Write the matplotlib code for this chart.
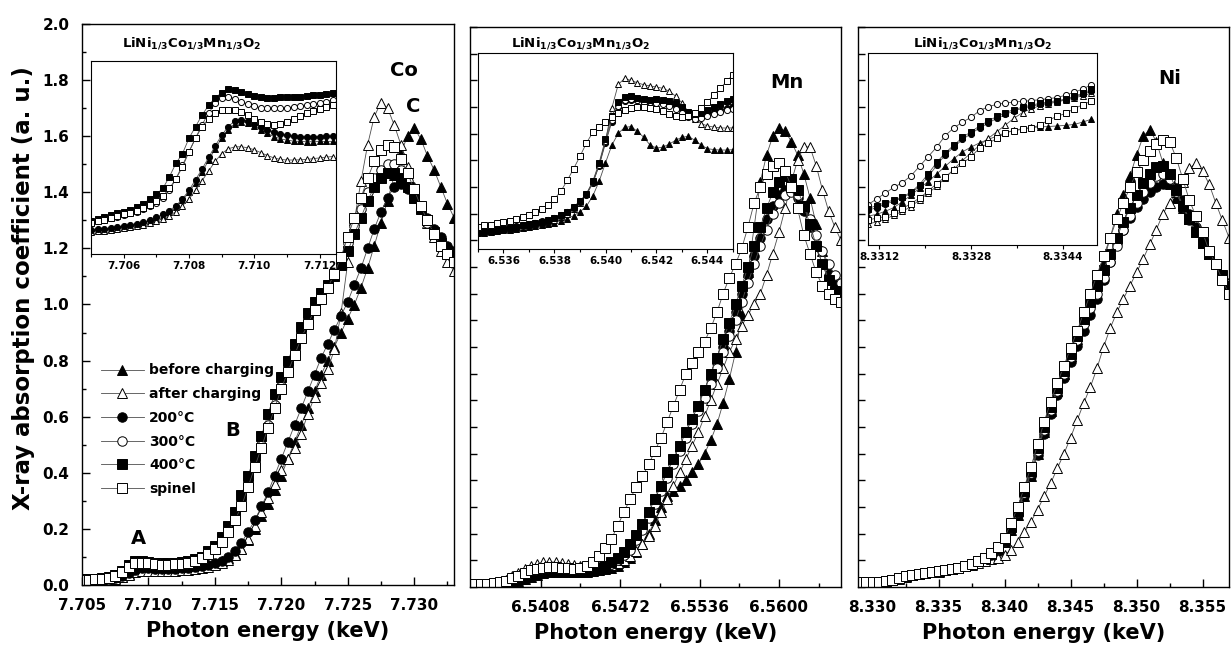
import matplotlib
matplotlib.use('Agg')
import matplotlib.pyplot as plt
from matplotlib.ticker import MultipleLocator, FormatStrFormatter

plt.rcParams['font.family'] = 'DejaVu Sans'
plt.rcParams['font.weight'] = 'bold'
plt.rcParams['mathtext.default'] = 'bf'

labels = ['before charging', 'after charging', '200°C', '300°C', '400°C', 'spinel']
markers = ['^', '^', 'o', 'o', 's', 's']
faces = ['k', 'w', 'k', 'w', 'k', 'w']

# ---------------- Co K-edge (main) ----------------
co_energy = [7.7050, 7.7055, 7.7060, 7.7065, 7.7070, 7.7075, 7.7080, 7.7085, 7.7090, 7.7095,
             7.7100, 7.7105, 7.7110, 7.7115, 7.7120, 7.7125, 7.7130, 7.7135, 7.7140, 7.7145,
             7.7150, 7.7155, 7.7160, 7.7165, 7.7170, 7.7175, 7.7180, 7.7185, 7.7190, 7.7195,
             7.7200, 7.7205, 7.7210, 7.7215, 7.7220, 7.7225, 7.7230, 7.7235, 7.7240, 7.7245,
             7.7250, 7.7255, 7.7260, 7.7265, 7.7270, 7.7275, 7.7280, 7.7285, 7.7290, 7.7295,
             7.7300, 7.7305, 7.7310, 7.7315, 7.7320, 7.7325, 7.7330]
co_before = [0.015, 0.015, 0.016, 0.018, 0.020, 0.024, 0.030, 0.040, 0.050, 0.055,
             0.055, 0.053, 0.052, 0.052, 0.053, 0.055, 0.058, 0.061, 0.065, 0.070,
             0.075, 0.085, 0.095, 0.110, 0.130, 0.160, 0.200, 0.245, 0.290, 0.340,
             0.390, 0.450, 0.510, 0.570, 0.630, 0.690, 0.750, 0.800, 0.850, 0.900,
             0.950, 1.000, 1.060, 1.130, 1.210, 1.290, 1.370, 1.460, 1.540, 1.600,
             1.630, 1.590, 1.530, 1.480, 1.420, 1.360, 1.310]
co_after = [0.013, 0.013, 0.014, 0.016, 0.018, 0.022, 0.028, 0.037, 0.046, 0.051,
            0.051, 0.050, 0.049, 0.049, 0.050, 0.052, 0.055, 0.058, 0.061, 0.065,
            0.070, 0.078, 0.090, 0.108, 0.130, 0.165, 0.210, 0.260, 0.310, 0.360,
            0.410, 0.450, 0.490, 0.540, 0.610, 0.670, 0.720, 0.770, 0.840, 0.970,
            1.150, 1.300, 1.440, 1.570, 1.670, 1.720, 1.700, 1.640, 1.570, 1.490,
            1.420, 1.350, 1.290, 1.240, 1.190, 1.150, 1.120]
co_200 = [0.016, 0.016, 0.017, 0.019, 0.021, 0.026, 0.033, 0.044, 0.055, 0.060,
          0.060, 0.058, 0.057, 0.057, 0.058, 0.060, 0.062, 0.065, 0.068, 0.072,
          0.078, 0.087, 0.100, 0.120, 0.150, 0.190, 0.230, 0.280, 0.330, 0.390,
          0.450, 0.510, 0.570, 0.630, 0.690, 0.750, 0.810, 0.860, 0.910, 0.960,
          1.010, 1.070, 1.130, 1.200, 1.270, 1.330, 1.380, 1.420, 1.430, 1.410,
          1.380, 1.350, 1.310, 1.270, 1.240, 1.210, 1.190]
co_300 = [0.020, 0.020, 0.021, 0.023, 0.027, 0.034, 0.048, 0.066, 0.080, 0.082,
          0.079, 0.076, 0.075, 0.075, 0.076, 0.078, 0.081, 0.088, 0.098, 0.115,
          0.135, 0.160, 0.195, 0.240, 0.290, 0.360, 0.430, 0.500, 0.570, 0.640,
          0.710, 0.770, 0.830, 0.890, 0.940, 0.990, 1.030, 1.070, 1.110, 1.160,
          1.220, 1.280, 1.340, 1.400, 1.450, 1.480, 1.500, 1.500, 1.480, 1.440,
          1.390, 1.340, 1.290, 1.250, 1.210, 1.180, 1.160]
co_400 = [0.021, 0.021, 0.022, 0.024, 0.028, 0.036, 0.050, 0.070, 0.085, 0.087,
          0.083, 0.080, 0.079, 0.079, 0.080, 0.082, 0.085, 0.091, 0.100, 0.120,
          0.140, 0.170, 0.210, 0.260, 0.320, 0.390, 0.460, 0.530, 0.610, 0.680,
          0.740, 0.800, 0.860, 0.920, 0.970, 1.010, 1.040, 1.070, 1.100, 1.140,
          1.190, 1.250, 1.310, 1.370, 1.420, 1.450, 1.470, 1.470, 1.450, 1.420,
          1.380, 1.340, 1.300, 1.260, 1.220, 1.190, 1.170]
co_spinel = [0.019, 0.019, 0.020, 0.022, 0.026, 0.033, 0.046, 0.064, 0.078, 0.080,
             0.077, 0.074, 0.073, 0.073, 0.074, 0.076, 0.079, 0.085, 0.095, 0.110,
             0.130, 0.155, 0.190, 0.230, 0.280, 0.350, 0.420, 0.490, 0.560, 0.630,
             0.700, 0.760, 0.820, 0.880, 0.930, 0.980, 1.020, 1.060, 1.110, 1.170,
             1.240, 1.310, 1.380, 1.450, 1.510, 1.550, 1.570, 1.560, 1.520, 1.470,
             1.410, 1.350, 1.300, 1.250, 1.210, 1.180, 1.150]

# ---------------- Mn K-edge (main) ----------------
mn_energy = [6.5350, 6.5355, 6.5360, 6.5365, 6.5370, 6.5375, 6.5380, 6.5385, 6.5390, 6.5395,
             6.5400, 6.5405, 6.5410, 6.5415, 6.5420, 6.5425, 6.5430, 6.5435, 6.5440, 6.5445,
             6.5450, 6.5455, 6.5460, 6.5465, 6.5470, 6.5475, 6.5480, 6.5485, 6.5490, 6.5495,
             6.5500, 6.5505, 6.5510, 6.5515, 6.5520, 6.5525, 6.5530, 6.5535, 6.5540, 6.5545,
             6.5550, 6.5555, 6.5560, 6.5565, 6.5570, 6.5575, 6.5580, 6.5585, 6.5590, 6.5595,
             6.5600, 6.5605, 6.5610, 6.5615, 6.5620, 6.5625, 6.5630, 6.5635, 6.5640, 6.5645,
             6.5650]
mn_before = [0.008, 0.008, 0.008, 0.009, 0.010, 0.011, 0.013, 0.017, 0.023, 0.030,
             0.038, 0.046, 0.052, 0.056, 0.058, 0.058, 0.057, 0.056, 0.056, 0.057,
             0.059, 0.062, 0.066, 0.072, 0.080, 0.092, 0.108, 0.130, 0.160, 0.200,
             0.250, 0.300, 0.340, 0.360, 0.380, 0.400, 0.430, 0.460, 0.500, 0.550,
             0.610, 0.690, 0.780, 0.880, 1.020, 1.180, 1.350, 1.520, 1.620, 1.690,
             1.720, 1.710, 1.670, 1.620, 1.550, 1.460, 1.360, 1.260, 1.190, 1.140,
             1.110]
mn_after = [0.008, 0.009, 0.010, 0.012, 0.015, 0.020, 0.028, 0.040, 0.053, 0.067,
            0.078, 0.087, 0.092, 0.094, 0.093, 0.090, 0.086, 0.082, 0.078, 0.075,
            0.074, 0.075, 0.078, 0.083, 0.090, 0.100, 0.115, 0.135, 0.160, 0.190,
            0.230, 0.280, 0.330, 0.380, 0.430, 0.480, 0.530, 0.580, 0.640, 0.700,
            0.760, 0.820, 0.880, 0.930, 0.980, 1.020, 1.060, 1.100, 1.170, 1.250,
            1.330, 1.420, 1.520, 1.600, 1.650, 1.650, 1.580, 1.490, 1.410, 1.350,
            1.300]
mn_200 = [0.008, 0.008, 0.009, 0.010, 0.012, 0.014, 0.019, 0.025, 0.033, 0.042,
          0.050, 0.056, 0.060, 0.062, 0.062, 0.061, 0.059, 0.058, 0.058, 0.060,
          0.063, 0.069, 0.077, 0.088, 0.103, 0.124, 0.150, 0.185, 0.225, 0.270,
          0.320, 0.370, 0.420, 0.470, 0.520, 0.570, 0.620, 0.670, 0.720, 0.780,
          0.840, 0.900, 0.960, 1.030, 1.100, 1.170, 1.240, 1.310, 1.380, 1.430,
          1.470, 1.490, 1.490, 1.460, 1.410, 1.350, 1.280, 1.210, 1.160, 1.120,
          1.090]
mn_300 = [0.009, 0.009, 0.010, 0.011, 0.013, 0.016, 0.021, 0.028, 0.037, 0.046,
          0.054, 0.060, 0.064, 0.066, 0.066, 0.065, 0.063, 0.062, 0.062, 0.063,
          0.066, 0.071, 0.078, 0.088, 0.102, 0.120, 0.140, 0.175, 0.215, 0.260,
          0.310, 0.360, 0.410, 0.460, 0.510, 0.560, 0.610, 0.660, 0.710, 0.760,
          0.820, 0.880, 0.940, 1.000, 1.070, 1.140, 1.210, 1.280, 1.340, 1.400,
          1.440, 1.470, 1.480, 1.470, 1.430, 1.380, 1.320, 1.260, 1.210, 1.170,
          1.140]
mn_400 = [0.008, 0.008, 0.009, 0.010, 0.012, 0.015, 0.020, 0.027, 0.035, 0.044,
          0.052, 0.058, 0.062, 0.064, 0.064, 0.063, 0.061, 0.060, 0.060, 0.062,
          0.066, 0.072, 0.080, 0.092, 0.108, 0.130, 0.160, 0.195, 0.235, 0.280,
          0.330, 0.380, 0.430, 0.480, 0.530, 0.580, 0.630, 0.680, 0.740, 0.800,
          0.860, 0.930, 0.990, 1.060, 1.130, 1.200, 1.280, 1.350, 1.420, 1.480,
          1.520, 1.540, 1.530, 1.490, 1.430, 1.360, 1.280, 1.210, 1.150, 1.110,
          1.080]
mn_spinel = [0.010, 0.010, 0.010, 0.012, 0.014, 0.018, 0.024, 0.032, 0.042, 0.052,
             0.062, 0.068, 0.072, 0.074, 0.074, 0.072, 0.070, 0.068, 0.070, 0.080,
             0.094, 0.115, 0.145, 0.180, 0.230, 0.280, 0.330, 0.375, 0.415, 0.460,
             0.510, 0.560, 0.620, 0.680, 0.740, 0.800, 0.840, 0.880, 0.920, 0.970,
             1.030, 1.100, 1.160, 1.210, 1.270, 1.350, 1.440, 1.500, 1.550, 1.580,
             1.590, 1.560, 1.500, 1.420, 1.320, 1.250, 1.180, 1.130, 1.100, 1.080,
             1.070]

# ---------------- Ni K-edge (main) ----------------
ni_energy = [8.3290, 8.3295, 8.3300, 8.3305, 8.3310, 8.3315, 8.3320, 8.3325, 8.3330, 8.3335,
             8.3340, 8.3345, 8.3350, 8.3355, 8.3360, 8.3365, 8.3370, 8.3375, 8.3380, 8.3385,
             8.3390, 8.3395, 8.3400, 8.3405, 8.3410, 8.3415, 8.3420, 8.3425, 8.3430, 8.3435,
             8.3440, 8.3445, 8.3450, 8.3455, 8.3460, 8.3465, 8.3470, 8.3475, 8.3480, 8.3485,
             8.3490, 8.3495, 8.3500, 8.3505, 8.3510, 8.3515, 8.3520, 8.3525, 8.3530, 8.3535,
             8.3540, 8.3545, 8.3550, 8.3555, 8.3560, 8.3565, 8.3570]
ni_before = [0.018, 0.018, 0.019, 0.020, 0.022, 0.026, 0.032, 0.040, 0.046, 0.050,
             0.054, 0.057, 0.060, 0.064, 0.068, 0.073, 0.080, 0.088, 0.097, 0.108,
             0.120, 0.140, 0.170, 0.215, 0.270, 0.340, 0.415, 0.500, 0.580, 0.660,
             0.735, 0.800, 0.865, 0.930, 1.000, 1.070, 1.140, 1.220, 1.310, 1.400,
             1.470, 1.540, 1.620, 1.690, 1.715, 1.670, 1.590, 1.510, 1.460, 1.420,
             1.380, 1.330, 1.290, 1.250, 1.210, 1.170, 1.130]
ni_after = [0.017, 0.017, 0.018, 0.019, 0.021, 0.025, 0.031, 0.038, 0.044, 0.048,
            0.052, 0.055, 0.058, 0.062, 0.066, 0.071, 0.077, 0.083, 0.090, 0.097,
            0.105, 0.110, 0.120, 0.140, 0.170, 0.205, 0.245, 0.290, 0.340, 0.390,
            0.445, 0.500, 0.560, 0.625, 0.690, 0.750, 0.820, 0.900, 0.970, 1.030,
            1.080, 1.130, 1.180, 1.230, 1.285, 1.340, 1.400, 1.440, 1.480, 1.520,
            1.570, 1.590, 1.560, 1.510, 1.440, 1.375, 1.310]
ni_200 = [0.018, 0.018, 0.019, 0.020, 0.022, 0.026, 0.032, 0.040, 0.046, 0.050,
          0.054, 0.057, 0.060, 0.064, 0.068, 0.073, 0.080, 0.088, 0.097, 0.108,
          0.120, 0.140, 0.170, 0.213, 0.270, 0.340, 0.415, 0.495, 0.575, 0.650,
          0.720, 0.785, 0.845, 0.905, 0.960, 1.020, 1.080, 1.150, 1.220, 1.290,
          1.340, 1.385, 1.425, 1.455, 1.480, 1.500, 1.510, 1.515, 1.495, 1.450,
          1.400, 1.350, 1.300, 1.255, 1.210, 1.170, 1.140]
ni_300 = [0.018, 0.018, 0.019, 0.020, 0.022, 0.026, 0.032, 0.040, 0.046, 0.050,
          0.054, 0.057, 0.060, 0.064, 0.068, 0.073, 0.080, 0.088, 0.098, 0.109,
          0.122, 0.142, 0.174, 0.220, 0.280, 0.353, 0.428, 0.510, 0.590, 0.665,
          0.735, 0.800, 0.862, 0.925, 0.985, 1.045, 1.100, 1.160, 1.220, 1.280,
          1.340, 1.390, 1.440, 1.480, 1.515, 1.540, 1.550, 1.530, 1.480, 1.425,
          1.375, 1.330, 1.290, 1.250, 1.210, 1.170, 1.135]
ni_400 = [0.018, 0.018, 0.019, 0.020, 0.022, 0.026, 0.032, 0.040, 0.046, 0.050,
          0.054, 0.057, 0.060, 0.064, 0.068, 0.073, 0.080, 0.088, 0.098, 0.110,
          0.125, 0.145, 0.178, 0.225, 0.285, 0.360, 0.435, 0.520, 0.600, 0.675,
          0.745, 0.810, 0.875, 0.940, 1.005, 1.070, 1.130, 1.190, 1.250, 1.310,
          1.370, 1.420, 1.470, 1.515, 1.550, 1.575, 1.580, 1.550, 1.490, 1.430,
          1.380, 1.330, 1.290, 1.250, 1.210, 1.170, 1.130]
ni_spinel = [0.018, 0.018, 0.019, 0.020, 0.022, 0.026, 0.032, 0.040, 0.046, 0.050,
             0.054, 0.057, 0.060, 0.064, 0.068, 0.073, 0.080, 0.088, 0.098, 0.110,
             0.128, 0.150, 0.185, 0.240, 0.300, 0.375, 0.450, 0.535, 0.620, 0.695,
             0.765, 0.830, 0.895, 0.960, 1.030, 1.100, 1.170, 1.240, 1.310, 1.380,
             1.440, 1.500, 1.555, 1.600, 1.635, 1.660, 1.675, 1.670, 1.610, 1.530,
             1.450, 1.390, 1.330, 1.260, 1.210, 1.150, 1.100]

# ---------------- insets (pre-edge, arbitrary units) ----------------
co_in_energy = [7.7050, 7.7052, 7.7054, 7.7056, 7.7058, 7.7060, 7.7062, 7.7064, 7.7066, 7.7068,
                7.7070, 7.7072, 7.7074, 7.7076, 7.7078, 7.7080, 7.7082, 7.7084, 7.7086, 7.7088,
                7.7090, 7.7092, 7.7094, 7.7096, 7.7098, 7.7100, 7.7102, 7.7104, 7.7106, 7.7108,
                7.7110, 7.7112, 7.7114, 7.7116, 7.7118, 7.7120, 7.7122, 7.7124]
co_in_before = [0.120, 0.123, 0.126, 0.130, 0.135, 0.140, 0.146, 0.153, 0.160, 0.170,
                0.182, 0.197, 0.217, 0.243, 0.278, 0.320, 0.370, 0.425, 0.485, 0.545,
                0.600, 0.645, 0.675, 0.685, 0.680, 0.665, 0.645, 0.625, 0.608, 0.597,
                0.590, 0.585, 0.583, 0.582, 0.582, 0.583, 0.583, 0.584]
co_in_after = [0.115, 0.118, 0.120, 0.124, 0.128, 0.133, 0.138, 0.145, 0.152, 0.160,
               0.170, 0.182, 0.198, 0.220, 0.250, 0.285, 0.330, 0.380, 0.430, 0.480,
               0.520, 0.545, 0.555, 0.556, 0.550, 0.540, 0.525, 0.510, 0.498, 0.490,
               0.487, 0.487, 0.488, 0.490, 0.494, 0.498, 0.502, 0.505]
co_in_200 = [0.125, 0.128, 0.130, 0.135, 0.140, 0.145, 0.150, 0.158, 0.165, 0.175,
             0.190, 0.205, 0.225, 0.250, 0.285, 0.330, 0.385, 0.440, 0.500, 0.560,
             0.615, 0.660, 0.690, 0.695, 0.690, 0.675, 0.660, 0.645, 0.632, 0.622,
             0.615, 0.610, 0.608, 0.607, 0.607, 0.608, 0.609, 0.610]
co_in_300 = [0.160, 0.170, 0.175, 0.185, 0.190, 0.200, 0.210, 0.220, 0.235, 0.250,
             0.265, 0.290, 0.330, 0.390, 0.460, 0.530, 0.600, 0.670, 0.730, 0.780,
             0.810, 0.815, 0.805, 0.790, 0.775, 0.765, 0.758, 0.755, 0.755, 0.755,
             0.757, 0.760, 0.765, 0.770, 0.775, 0.780, 0.790, 0.800]
co_in_400 = [0.170, 0.180, 0.190, 0.200, 0.210, 0.220, 0.230, 0.245, 0.260, 0.285,
             0.310, 0.340, 0.400, 0.470, 0.520, 0.600, 0.660, 0.720, 0.770, 0.810,
             0.835, 0.853, 0.850, 0.840, 0.830, 0.820, 0.815, 0.810, 0.810, 0.812,
             0.815, 0.816, 0.816, 0.820, 0.822, 0.826, 0.830, 0.836]
co_in_spinel = [0.160, 0.170, 0.175, 0.185, 0.195, 0.205, 0.215, 0.225, 0.240, 0.255,
                0.275, 0.300, 0.340, 0.390, 0.450, 0.530, 0.600, 0.660, 0.700, 0.730,
                0.745, 0.748, 0.745, 0.735, 0.720, 0.700, 0.685, 0.672, 0.668, 0.675,
                0.685, 0.700, 0.715, 0.730, 0.742, 0.752, 0.762, 0.772]

mn_in_energy = [6.53500, 6.53525, 6.53550, 6.53575, 6.53600, 6.53625, 6.53650, 6.53675, 6.53700, 6.53725,
                6.53750, 6.53775, 6.53800, 6.53825, 6.53850, 6.53875, 6.53900, 6.53925, 6.53950, 6.53975,
                6.54000, 6.54025, 6.54050, 6.54075, 6.54100, 6.54125, 6.54150, 6.54175, 6.54200, 6.54225,
                6.54250, 6.54275, 6.54300, 6.54325, 6.54350, 6.54375, 6.54400, 6.54425, 6.54450, 6.54475,
                6.54500]
mn_in_before = [0.080, 0.083, 0.086, 0.090, 0.095, 0.099, 0.104, 0.108, 0.113, 0.118,
                0.123, 0.128, 0.135, 0.145, 0.155, 0.170, 0.190, 0.218, 0.270, 0.345,
                0.440, 0.530, 0.590, 0.620, 0.625, 0.600, 0.570, 0.530, 0.515, 0.520,
                0.535, 0.555, 0.570, 0.575, 0.555, 0.530, 0.512, 0.507, 0.505, 0.505,
                0.507]
mn_in_after = [0.083, 0.087, 0.091, 0.095, 0.100, 0.104, 0.109, 0.114, 0.120, 0.126,
               0.133, 0.141, 0.150, 0.163, 0.180, 0.205, 0.235, 0.280, 0.340, 0.430,
               0.550, 0.720, 0.840, 0.870, 0.860, 0.848, 0.838, 0.832, 0.826, 0.820,
               0.805, 0.780, 0.745, 0.700, 0.665, 0.640, 0.628, 0.622, 0.618, 0.617,
               0.618]
mn_in_200 = [0.085, 0.089, 0.093, 0.098, 0.103, 0.108, 0.113, 0.119, 0.125, 0.132,
             0.139, 0.147, 0.157, 0.170, 0.187, 0.210, 0.240, 0.275, 0.335, 0.425,
             0.540, 0.650, 0.725, 0.755, 0.762, 0.758, 0.750, 0.748, 0.750, 0.750,
             0.745, 0.732, 0.712, 0.690, 0.678, 0.680, 0.690, 0.700, 0.710, 0.720,
             0.730]
mn_in_300 = [0.088, 0.092, 0.096, 0.100, 0.105, 0.110, 0.115, 0.121, 0.127, 0.134,
             0.141, 0.149, 0.159, 0.172, 0.190, 0.213, 0.243, 0.280, 0.340, 0.430,
             0.550, 0.660, 0.730, 0.760, 0.765, 0.760, 0.752, 0.748, 0.745, 0.740,
             0.730, 0.715, 0.695, 0.675, 0.665, 0.668, 0.678, 0.690, 0.700, 0.710,
             0.715]
mn_in_400 = [0.085, 0.090, 0.094, 0.099, 0.104, 0.109, 0.114, 0.120, 0.126, 0.133,
             0.140, 0.148, 0.158, 0.172, 0.190, 0.215, 0.245, 0.280, 0.345, 0.440,
             0.560, 0.680, 0.750, 0.775, 0.780, 0.772, 0.764, 0.762, 0.763, 0.762,
             0.756, 0.745, 0.725, 0.700, 0.690, 0.695, 0.710, 0.725, 0.740, 0.755,
             0.765]
mn_in_spinel = [0.110, 0.120, 0.125, 0.133, 0.140, 0.145, 0.152, 0.162, 0.175, 0.190,
                0.205, 0.225, 0.255, 0.295, 0.350, 0.410, 0.473, 0.540, 0.595, 0.625,
                0.650, 0.672, 0.692, 0.708, 0.718, 0.722, 0.724, 0.720, 0.713, 0.705,
                0.690, 0.678, 0.675, 0.680, 0.695, 0.720, 0.750, 0.785, 0.820, 0.855,
                0.890]

ni_in_energy = [8.33100, 8.33115, 8.33130, 8.33145, 8.33160, 8.33175, 8.33190, 8.33205, 8.33220,
                8.33235, 8.33250, 8.33265, 8.33280, 8.33295, 8.33310, 8.33325, 8.33340, 8.33355,
                8.33370, 8.33385, 8.33400, 8.33415, 8.33430, 8.33445, 8.33460, 8.33475, 8.33490]
ni_in_before = [0.150, 0.160, 0.175, 0.195, 0.225, 0.260, 0.295, 0.330, 0.370,
                0.410, 0.450, 0.485, 0.510, 0.532, 0.550, 0.567, 0.585, 0.597,
                0.606, 0.612, 0.615, 0.617, 0.620, 0.623, 0.628, 0.640, 0.655]
ni_in_after = [0.110, 0.120, 0.135, 0.155, 0.175, 0.200, 0.235, 0.270, 0.305,
               0.350, 0.395, 0.440, 0.480, 0.520, 0.555, 0.590, 0.625, 0.660,
               0.690, 0.710, 0.725, 0.735, 0.745, 0.755, 0.765, 0.778, 0.790]
ni_in_200 = [0.180, 0.195, 0.212, 0.228, 0.245, 0.270, 0.305, 0.355, 0.415,
             0.470, 0.510, 0.550, 0.580, 0.610, 0.635, 0.660, 0.680, 0.698,
             0.712, 0.722, 0.732, 0.740, 0.748, 0.757, 0.770, 0.785, 0.800]
ni_in_300 = [0.210, 0.240, 0.270, 0.300, 0.325, 0.360, 0.410, 0.460, 0.510,
             0.570, 0.610, 0.640, 0.665, 0.700, 0.720, 0.733, 0.739, 0.745,
             0.748, 0.752, 0.757, 0.762, 0.768, 0.780, 0.795, 0.812, 0.835]
ni_in_400 = [0.190, 0.205, 0.220, 0.235, 0.250, 0.275, 0.315, 0.370, 0.430,
             0.480, 0.520, 0.560, 0.590, 0.620, 0.645, 0.670, 0.690, 0.705,
             0.718, 0.728, 0.738, 0.745, 0.752, 0.760, 0.775, 0.790, 0.810]
ni_in_spinel = [0.130, 0.140, 0.148, 0.165, 0.190, 0.215, 0.245, 0.280, 0.320,
                0.355, 0.390, 0.425, 0.460, 0.505, 0.530, 0.555, 0.585, 0.595,
                0.603, 0.608, 0.625, 0.650, 0.670, 0.685, 0.710, 0.730, 0.750]


def draw(ax, x, series, ms, lw=0.6):
    for y, m, fc, lab in zip(series, markers, faces, labels):
        ax.plot(x, y, marker=m, ms=ms, mfc=fc, mec='k', mew=0.7,
                color='0.3', lw=lw, label=lab)


W, H = 1231, 653
fig = plt.figure(figsize=(W / 100, H / 100), dpi=100)


def box(l, t, r, b):
    return [l / W, 1 - b / H, (r - l) / W, (b - t) / H]


ax1 = fig.add_axes(box(82, 24, 454, 585))
ax2 = fig.add_axes(box(470, 27, 841, 587))
ax3 = fig.add_axes(box(858, 27, 1229, 587))

draw(ax1, co_energy, [co_before, co_after, co_200, co_300, co_400, co_spinel], 6.8)
draw(ax2, mn_energy, [mn_before, mn_after, mn_200, mn_300, mn_400, mn_spinel], 6.8)
draw(ax3, ni_energy, [ni_before, ni_after, ni_200, ni_300, ni_400, ni_spinel], 6.8)

ax1.set_xlim(7.705, 7.733)
ax1.set_ylim(0, 2.0)
ax2.set_xlim(6.5351, 6.5650)
ax2.set_ylim(0, 2.1)
ax3.set_xlim(8.3289, 8.3570)
ax3.set_ylim(0, 2.1)

ax1.xaxis.set_major_locator(MultipleLocator(0.005))
ax1.xaxis.set_minor_locator(MultipleLocator(0.0025))
ax1.xaxis.set_major_formatter(FormatStrFormatter('%.3f'))
ax1.yaxis.set_major_locator(MultipleLocator(0.2))
ax1.yaxis.set_minor_locator(MultipleLocator(0.1))
ax1.yaxis.set_major_formatter(FormatStrFormatter('%.1f'))

ax2.xaxis.set_major_locator(MultipleLocator(0.0064))
ax2.xaxis.set_minor_locator(MultipleLocator(0.0032))
ax2.xaxis.set_major_formatter(FormatStrFormatter('%.4f'))
ax3.xaxis.set_major_locator(MultipleLocator(0.005))
ax3.xaxis.set_minor_locator(MultipleLocator(0.0025))
ax3.xaxis.set_major_formatter(FormatStrFormatter('%.3f'))
for ax in (ax2, ax3):
    ax.yaxis.set_major_locator(MultipleLocator(0.1))
    ax.tick_params(axis='y', labelleft=False)

for ax in (ax1, ax2, ax3):
    ax.tick_params(which='major', direction='in', length=6, width=1, labelsize=11, pad=9)
    ax.tick_params(which='minor', direction='in', length=3, width=1)
    for s in ax.spines.values():
        s.set_linewidth(1.0)
    ax.set_xlabel('Photon energy (keV)', fontsize=15, fontweight='bold', labelpad=6)
for ax in (ax2, ax3):
    ax.tick_params(axis='y', which='major', length=5)

ax1.set_ylabel('X-ray absorption coefficient (a. u.)', fontsize=16.5, fontweight='bold')
ax1.yaxis.set_label_coords(-0.125, 0.53)

ax1.legend(loc='upper left', bbox_to_anchor=(0.05, 0.395), frameon=False,
           prop={'weight': 'bold', 'size': 10}, handlelength=3.1,
           handletextpad=0.4, labelspacing=0.7, borderpad=0, borderaxespad=0)

# ---------------- insets ----------------
in1 = fig.add_axes(box(91, 61, 336, 254))
in2 = fig.add_axes(box(478, 53, 733, 249))
in3 = fig.add_axes(box(868, 53, 1097, 245))

draw(in1, co_in_energy, [co_in_before, co_in_after, co_in_200, co_in_300, co_in_400, co_in_spinel], 4.4)
draw(in2, mn_in_energy, [mn_in_before, mn_in_after, mn_in_200, mn_in_300, mn_in_400, mn_in_spinel], 4.4)
draw(in3, ni_in_energy, [ni_in_before, ni_in_after, ni_in_200, ni_in_300, ni_in_400, ni_in_spinel], 4.4)

in1.set_xlim(7.7050, 7.7125)
in2.set_xlim(6.5350, 6.5450)
in3.set_xlim(8.3310, 8.3350)
in1.xaxis.set_major_locator(MultipleLocator(0.002))
in1.xaxis.set_minor_locator(MultipleLocator(0.001))
in1.xaxis.set_major_formatter(FormatStrFormatter('%.3f'))
in2.xaxis.set_major_locator(MultipleLocator(0.002))
in2.xaxis.set_minor_locator(MultipleLocator(0.001))
in2.xaxis.set_major_formatter(FormatStrFormatter('%.3f'))
in3.xaxis.set_major_locator(MultipleLocator(0.0016))
in3.xaxis.set_minor_locator(MultipleLocator(0.0008))
in3.xaxis.set_major_formatter(FormatStrFormatter('%.4f'))
for ax in (in1, in2, in3):
    ax.set_ylim(0, 1)
    ax.tick_params(axis='y', left=False, labelleft=False)
    ax.tick_params(axis='x', which='major', direction='out', length=3, width=0.8, labelsize=7.5, pad=2)
    ax.tick_params(axis='x', which='minor', direction='out', length=2, width=0.8)
    for s in ax.spines.values():
        s.set_linewidth(0.8)

title = r'LiNi$_{1/3}$Co$_{1/3}$Mn$_{1/3}$O$_2$'
for cx in (192, 581, 983):
    fig.text(cx / W, 1 - 43 / H, title, ha='center', va='center', fontsize=9.5, fontweight='bold')

for s, x, y in [('Co', 404, 70), ('C', 413, 107), ('Mn', 787, 82), ('Ni', 1170, 78),
                ('A', 138, 538), ('B', 233, 430)]:
    fig.text(x / W, 1 - y / H, s, ha='center', va='center', fontsize=14, fontweight='bold')

fig.savefig('out.png', dpi=100)
